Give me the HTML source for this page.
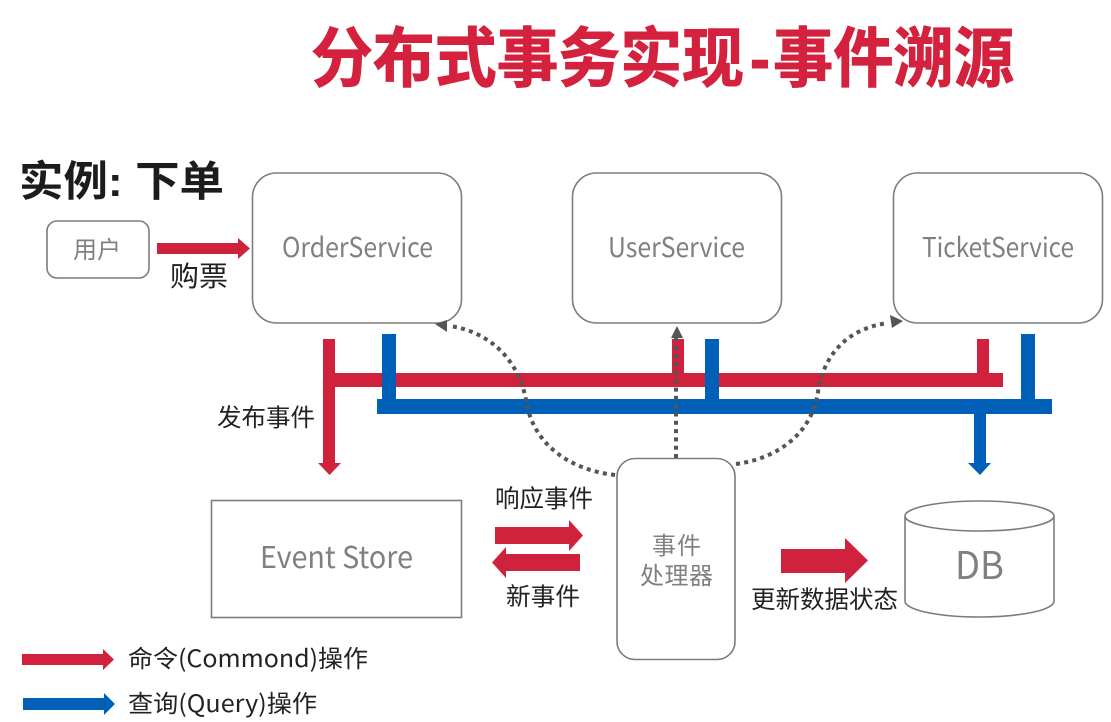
<!DOCTYPE html>
<html>
<head>
<meta charset="utf-8">
<style>
html,body{margin:0;padding:0;background:#fff;width:1111px;height:722px;overflow:hidden}
svg{display:block;filter:blur(0.35px)}
text{font-family:"Liberation Sans","Noto Sans CJK SC",sans-serif}
.n{font-family:"Noto Sans CJK SC","Liberation Sans",sans-serif}
.g{fill:#808080}
.k{fill:#222}
.b{fill:#fff;stroke:#7c7c7c;stroke-width:1.6}
.r{fill:#d0213d}
.u{fill:#0060b8}
.d{fill:none;stroke:#555;stroke-width:4;stroke-dasharray:4 4.3}
</style>
</head>
<body>
<svg width="1111" height="722" viewBox="0 0 1111 722" xmlns="http://www.w3.org/2000/svg">
<rect width="1111" height="722" fill="#fff"/>
<g font-size="65" font-weight="700" fill="#d4213d" stroke="#d4213d" stroke-width="1">
<text x="311" y="81" textLength="433" lengthAdjust="spacingAndGlyphs">分布式事务实现</text>
<text x="750" y="81" textLength="20" lengthAdjust="spacingAndGlyphs">-</text>
<text x="773" y="81" textLength="241" lengthAdjust="spacingAndGlyphs">事件溯源</text>
</g>
<text x="19" y="196" font-size="42" font-weight="700" fill="#1c1c1c" textLength="205" lengthAdjust="spacingAndGlyphs">实例: 下单</text>

<rect class="b" x="47" y="221" width="102" height="57" rx="10"/>
<rect class="b" x="252.500" y="173" width="209" height="150" rx="24"/>
<rect class="b" x="572.500" y="173" width="209" height="150" rx="24"/>
<rect class="b" x="893.500" y="173" width="209" height="150" rx="24"/>
<rect class="b" x="211.500" y="500.500" width="250" height="117"/>
<rect class="b" x="617" y="458.500" width="118" height="201" rx="18"/>

<path class="b" d="M905 516V601C905 610 938 617 979.500 617S1054 610 1054 601V516"/>
<ellipse class="b" cx="979.500" cy="516" rx="74.500" ry="15"/>

<text class="g" x="73" y="258" font-size="24" textLength="48">用户</text>
<text class="g n" x="282" y="257" font-size="27" textLength="151" lengthAdjust="spacingAndGlyphs">OrderService</text>
<text class="g n" x="608" y="257" font-size="27" textLength="137" lengthAdjust="spacingAndGlyphs">UserService</text>
<text class="g n" x="922" y="257" font-size="27" textLength="152" lengthAdjust="spacingAndGlyphs">TicketService</text>
<text class="g n" x="260" y="568" font-size="30" textLength="153" lengthAdjust="spacingAndGlyphs">Event Store</text>
<text class="g" x="652" y="554" font-size="24" textLength="49">事件</text>
<text class="g" x="640" y="584" font-size="24" textLength="73">处理器</text>
<text class="g n" x="955" y="579" font-size="38" textLength="49" lengthAdjust="spacingAndGlyphs">DB</text>

<!-- red -->
<polygon class="r" points="157,243 238,243 238,238 250,248.500 238,259 238,254 157,254"/>
<polygon class="r" points="323,339 335,339 335,373 1003,373 1003,387 335,387 335,463 341,463 329.500,475 318,463 323,463"/>
<rect class="r" x="672" y="339" width="12" height="36"/>
<rect class="r" x="977" y="339" width="12" height="36"/>
<polygon class="r" points="495,527 569,527 569,520 583,535.500 569,551 569,544 495,544"/>
<polygon class="r" points="580,554 506,554 506,547 492,562.500 506,578 506,571 580,571"/>
<polygon class="r" points="781,549 845,549 845,538 868,560.500 845,583 845,573 781,573"/>
<polygon class="r" points="22,654 103,654 103,649 114,659.500 103,670 103,665 22,665"/>

<!-- blue -->
<rect class="u" x="382" y="334" width="14" height="66"/>
<rect class="u" x="705" y="339" width="14" height="60"/>
<rect class="u" x="1021" y="334" width="14" height="66"/>
<rect class="u" x="377" y="399" width="675" height="15"/>
<polygon class="u" points="974,413 986,413 986,463 991,463 980,475 968,463 974,463"/>
<polygon class="u" points="23,698 104,698 104,693 115,704 104,715 104,710 23,710"/>

<!-- dotted -->
<path class="d" d="M615 475C570 470 535 445 527 405C520 360 490 332 450 326"/>
<polygon fill="#555" points="435,324 447,320 447,332"/>
<path class="d" d="M676 458V338"/>
<polygon fill="#555" points="677,326 683,338 671,338"/>
<path class="d" d="M736 464C780 458 812 432 818 392C824 352 850 328 888 323"/>
<polygon fill="#555" points="903,321 890,315 892,328"/>

<!-- labels -->
<text class="k" x="170" y="286" font-size="28" textLength="58" lengthAdjust="spacingAndGlyphs">购票</text>
<text class="k" x="217" y="426" font-size="24.500" textLength="98" lengthAdjust="spacingAndGlyphs">发布事件</text>
<text class="k" x="495" y="507" font-size="24.500" textLength="98" lengthAdjust="spacingAndGlyphs">响应事件</text>
<text class="k" x="506" y="605" font-size="24.500" textLength="74" lengthAdjust="spacingAndGlyphs">新事件</text>
<text class="k" x="751" y="608" font-size="24.500" textLength="147" lengthAdjust="spacingAndGlyphs">更新数据状态</text>
<text class="k n" x="128" y="667" font-size="24" textLength="240" lengthAdjust="spacingAndGlyphs">命令(Commond)操作</text>
<text class="k n" x="128" y="712" font-size="24" textLength="189" lengthAdjust="spacingAndGlyphs">查询(Query)操作</text>
</svg>
</body>
</html>
